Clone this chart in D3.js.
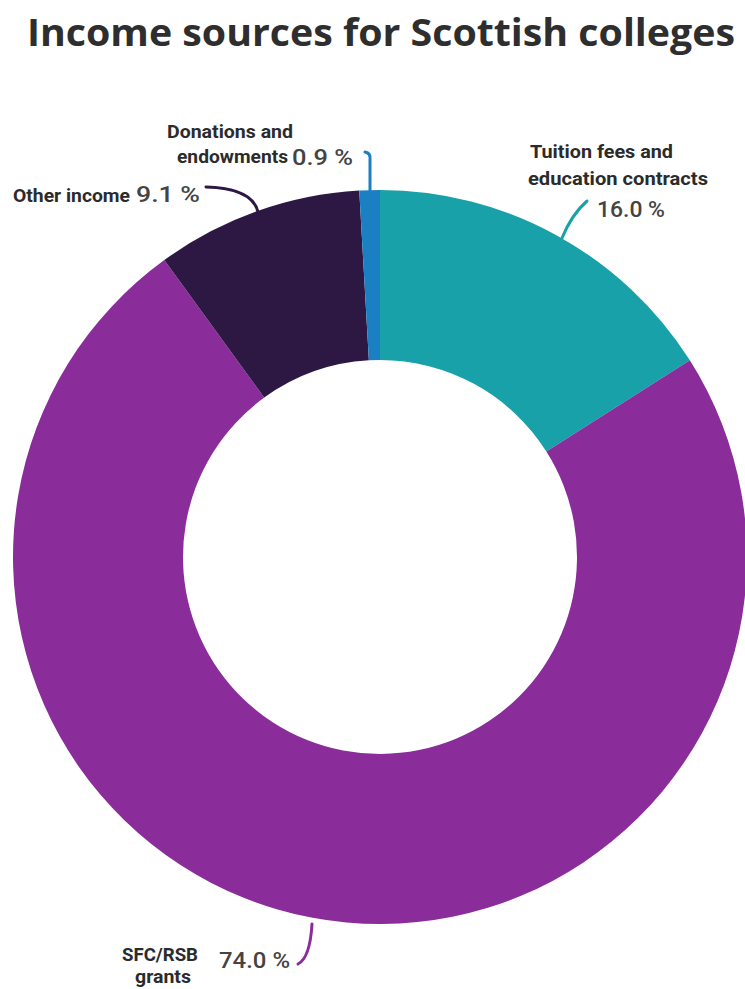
<!DOCTYPE html>
<html>
<head>
<meta charset="utf-8">
<script src="https://cdn.jsdelivr.net/npm/d3@7"></script>
<style>
  html, body { margin: 0; padding: 0; background: #fff; }
  svg { display: block; }
</style>
</head>
<body>
<svg id="chart" width="745" height="989"></svg>
<script>
const title = "Income sources for Scottish colleges";
const categories = ["Tuition fees and education contracts", "SFC/RSB grants", "Other income", "Donations and endowments"];
const values = [16.0, 74.0, 9.1, 0.9];
const colors = ["#18a1a8", "#8a2d9b", "#2d1843", "#1b80c3"];
const labelLines = [["Tuition fees and", "education contracts"], ["SFC/RSB", "grants"], ["Other income"], ["Donations and", "endowments"]];

const svg = d3.select("#chart");
const W = 745, H = 989;
const cx = 380, cy = 557, rOuter = 367, rInner = 197;

svg.append("text")
  .attr("x", 27).attr("y", 46)
  .attr("font-family", "'Open Sans', sans-serif")
  .attr("font-weight", 700)
  .attr("font-size", 38)
  .attr("fill", "#2e2e2e")
  .attr("textLength", 708)
  .attr("lengthAdjust", "spacingAndGlyphs")
  .text(title);

const data = categories.map((c, i) => ({ name: c, value: values[i], color: colors[i], lines: labelLines[i] }));

const pie = d3.pie().value(d => d.value).sort(null).startAngle(0).endAngle(2 * Math.PI);
const arc = d3.arc().innerRadius(rInner).outerRadius(rOuter);
const arcs = pie(data);

const g = svg.append("g").attr("transform", `translate(${cx},${cy})`);
g.selectAll("path.slice").data(arcs).join("path")
  .attr("class", "slice")
  .attr("d", arc)
  .attr("fill", d => d.data.color);

// label layout (positions only)
const layout = [
  { lines: [[530, 158, 143], [528, 185, 180]], pct: [597, 217, 68], leader: "M587,201 Q572,214 562,238" },
  { lines: [[122, 961, 76], [135, 983, 56]], pct: [219, 968, 71], leader: "M298,964 Q310,958 312,924" },
  { lines: [[13, 202, 117]], pct: [136, 202, 64], leader: "M206,187 Q252,188 258,212" },
  { lines: [[167, 138, 126], [177, 163, 111]], pct: [292, 165, 61], leader: "M365,152 Q371,153 370,160 L370,196" }
];

const lab = svg.append("g");
arcs.forEach((a, i) => {
  const L = layout[i];
  lab.append("path")
    .attr("d", L.leader)
    .attr("fill", "none")
    .attr("stroke", a.data.color)
    .attr("stroke-width", 3)
    .attr("stroke-linecap", "round");
  a.data.lines.forEach((t, j) => {
    const p = L.lines[j];
    lab.append("text")
      .attr("x", p[0]).attr("y", p[1])
      .attr("font-family", "Roboto, sans-serif")
      .attr("font-weight", 700)
      .attr("font-size", 19)
      .attr("fill", "#2b2b2b")
      .attr("textLength", p[2])
      .attr("lengthAdjust", "spacingAndGlyphs")
      .text(t);
  });
  lab.append("text")
    .attr("x", L.pct[0]).attr("y", L.pct[1])
    .attr("font-family", "Roboto, sans-serif")
    .attr("font-weight", 500)
    .attr("font-size", 22)
    .attr("fill", "#444")
    .attr("textLength", L.pct[2])
    .attr("lengthAdjust", "spacingAndGlyphs")
    .text(d3.format(".1f")(a.data.value) + " %");
});
</script>
</body>
</html>
